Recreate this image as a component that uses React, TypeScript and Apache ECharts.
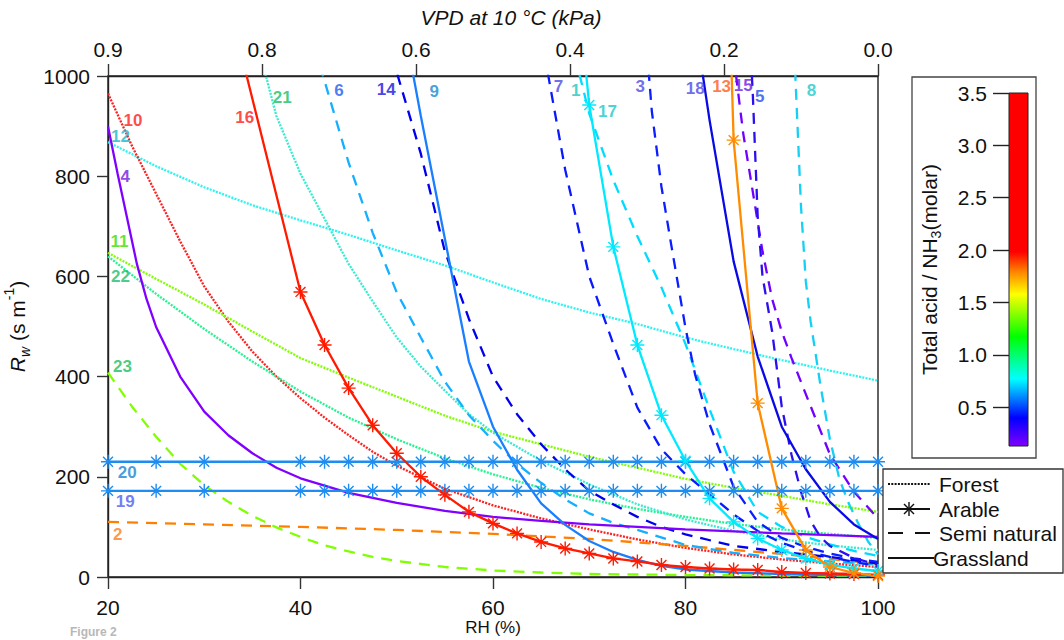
import React, { useEffect, useRef } from "react";
import * as echarts from "echarts";

const FONT = "'Liberation Sans', Arial, Helvetica, sans-serif";

// ---- axes / ticks ----
const RH_MIN = 20, RH_MAX = 100, RH_STEP = 20;
const RW_MIN = 0, RW_MAX = 1000, RW_STEP = 200;
const VPD_STEP_RH = 16;
const VPD_TICK_RH = [20, 36, 52, 68, 84, 100];
const VPD_TICK_LABELS = ["0.9", "0.8", "0.6", "0.4", "0.2", "0.0"];
const CBAR_MIN = 0.13, CBAR_MAX = 3.5;
const CBAR_TICKS = [0.5, 1.0, 1.5, 2.0, 2.5, 3.0, 3.5];
const LEGEND_ITEMS = ["Forest", "Arable", "Semi natural", "Grassland"];

// ---- data (RH %, Rw s m-1) ----
const RH_ARABLE = [20, 25, 30, 40, 42.5, 45, 47.5, 50, 52.5, 55, 57.5, 60, 62.5, 65, 67.5, 70, 72.5, 75, 77.5, 80, 82.5, 85, 87.5, 90, 92.5, 95, 97.5, 100];
const RW_19 = [172, 172, 172, 172, 172, 172, 172, 172, 172, 172, 172, 172, 172, 172, 172, 172, 172, 172, 172, 172, 172, 172, 172, 172, 172, 172, 172, 172];
const RW_20 = [230, 230, 230, 230, 230, 230, 230, 230, 230, 230, 230, 230, 230, 230, 230, 230, 230, 230, 230, 230, 230, 230, 230, 230, 230, 230, 230, 230];

const C1 = [[68.5, 1040], [70, 925], [72.5, 792], [75, 680], [77.5, 578], [80, 465], [82.5, 335], [85, 210], [87.5, 130], [90, 100], [92.5, 80], [95, 65], [97.5, 52], [100, 42]];
const C2 = [[20, 110], [30, 105], [40, 100], [50, 94], [60, 86], [70, 76], [80, 62], [90, 46], [95, 36], [100, 26]];
const C3 = [[76, 1050], [76.5, 930], [77.5, 779], [78.5, 665], [80, 497], [81, 404], [82.5, 305], [85, 180], [87.5, 110], [90, 78], [92.5, 60], [95, 47], [97.5, 37], [100, 30]];
const C4 = [[20, 899], [21, 805], [22, 715], [23, 625], [24, 555], [25, 499], [27.5, 400], [30, 330], [32.5, 283], [35, 247], [37.5, 218], [40, 197], [45, 168], [50, 148], [55, 132], [60, 120], [65, 112], [70, 105], [75, 100], [80, 95], [90, 87], [100, 80]];
const C5 = [[86.8, 1040], [87, 960], [87.5, 720], [88, 600], [89, 490], [90, 340], [91, 245], [92, 170], [93, 112], [94, 80], [95, 62], [97.5, 38], [100, 24]];
const C6 = [[42, 1020], [42.5, 990], [45, 827], [47.5, 687], [50, 568], [52.5, 478], [55, 390], [57.5, 323], [60, 272], [62.5, 226], [65, 188], [67.5, 155], [70, 127], [72.5, 108], [75, 94], [80, 64], [85, 48], [90, 38], [95, 31], [100, 25]];
const C7 = [[65, 1080], [67.5, 813], [70, 600], [72.5, 465], [75, 338], [77.5, 255], [80, 205], [82.5, 165], [85, 125], [87.5, 92], [90, 68], [92.5, 52], [95, 40], [97.5, 30], [100, 22]];
const C8 = [[91.3, 1050], [92, 740], [92.5, 590], [93, 510], [94, 385], [95, 275], [96, 195], [97, 145], [98, 105], [99, 70], [100, 45]];
const C9 = [[50, 1180], [52.5, 920], [55, 675], [57.5, 430], [60, 300], [62.5, 214], [65, 147], [67.5, 104], [70, 72], [72.5, 50], [75, 34], [77.5, 22], [80, 15], [85, 9], [90, 6], [95, 4], [100, 3]];
const C10 = [[20, 965], [22.5, 860], [25, 765], [27.5, 670], [30, 580], [32.5, 510], [35, 450], [37.5, 400], [40, 357], [42.5, 318], [45, 283], [47.5, 250], [50, 222], [55, 176], [60, 143], [65, 117], [70, 95], [75, 75], [80, 58], [85, 45], [90, 35], [95, 27], [100, 20]];
const C11 = [[20, 647], [25, 595], [30, 544], [35, 490], [40, 437], [45, 398], [50, 360], [55, 322], [60, 290], [65, 265], [70, 240], [75, 218], [80, 196], [85, 178], [90, 162], [95, 145], [100, 130]];
const C12 = [[20, 868], [25, 820], [30, 778], [35, 742], [40, 712], [45, 683], [50, 652], [55, 622], [60, 588], [65, 555], [70, 528], [75, 505], [80, 478], [85, 455], [90, 433], [95, 412], [100, 392]];
const C13 = [[82.5, 2470], [85, 872], [87.5, 347], [90, 137], [92.5, 54], [95, 20], [97.5, 8], [100, 2]];
const C14 = [[49.5, 1040], [52.5, 845], [55, 650], [57.5, 515], [60, 400], [62.5, 325], [65, 265], [67.5, 215], [70, 172], [72.5, 145], [75, 120], [77.5, 100], [80, 85], [85, 62], [90, 50], [95, 40], [100, 27]];
const C15 = [[85, 1040], [86, 885], [87, 768], [88, 650], [89, 555], [90, 490], [91, 438], [92.5, 365], [95, 245], [97.5, 170], [100, 117]];
const C16 = [[30, 1340], [40, 569], [42.5, 463], [45, 377], [47.5, 303], [50, 247], [52.5, 200], [55, 164], [57.5, 130], [60, 107], [62.5, 87], [65, 70], [67.5, 57], [70, 47], [72.5, 37], [75, 31], [77.5, 24], [80, 20], [82.5, 17], [85, 15], [87.5, 14], [90, 10], [92.5, 8], [95, 7], [97.5, 6], [100, 4]];
const C17 = [[67.5, 1425], [70, 942], [72.5, 659], [75, 463], [77.5, 323], [80, 232], [82.5, 157], [85, 110], [87.5, 77], [90, 54], [92.5, 37], [95, 24], [97.5, 17], [100, 12]];
const C18 = [[81.5, 1040], [82.5, 912], [85, 630], [87.5, 440], [90, 300], [92.5, 215], [95, 150], [97.5, 105], [100, 76]];
const C21 = [[36, 1030], [37.5, 920], [40, 805], [42.5, 715], [45, 625], [47.5, 550], [50, 478], [52.5, 420], [55, 372], [57.5, 325], [60, 288], [65, 232], [70, 185], [75, 145], [80, 115], [85, 92], [90, 75], [95, 63], [100, 54]];
const C22 = [[20, 640], [25, 565], [30, 495], [35, 430], [40, 370], [45, 318], [50, 275], [55, 237], [60, 205], [65, 178], [70, 155], [75, 136], [80, 120], [85, 106], [90, 95], [95, 86], [100, 78]];
const C23 = [[20, 408], [22.5, 340], [25, 280], [27.5, 226], [30, 183], [32.5, 150], [35, 122], [37.5, 99], [40, 80], [42.5, 63], [45, 51], [47.5, 40], [50, 32], [55, 20], [60, 13], [65, 9], [70, 6], [80, 4], [90, 3], [100, 2]];
const C19 = RH_ARABLE.map((x, i) => [x, RW_19[i]]);
const C20 = RH_ARABLE.map((x, i) => [x, RW_20[i]]);

// curve id, land type, data
const CURVES: [string, string, number[][]][] = [
  ["12", "forest", C12], ["10", "forest", C10], ["11", "forest", C11], ["22", "forest", C22], ["21", "forest", C21],
  ["2", "semi", C2], ["23", "semi", C23], ["6", "semi", C6], ["14", "semi", C14], ["7", "semi", C7], ["1", "semi", C1],
  ["3", "semi", C3], ["15", "semi", C15], ["5", "semi", C5], ["8", "semi", C8],
  ["4", "grass", C4], ["9", "grass", C9], ["18", "grass", C18],
  ["19", "arable", C19], ["20", "arable", C20], ["16", "arable", C16], ["17", "arable", C17], ["13", "arable", C13],
];

// curve label anchors (RH, Rw)
const LABEL_POS: [string, number, number][] = [
  ["10", 22.6, 912], ["12", 21.3, 879], ["4", 21.8, 800], ["11", 21.2, 669], ["22", 21.3, 599], ["23", 21.5, 420],
  ["20", 22.0, 208], ["19", 21.8, 150], ["2", 21.0, 84], ["16", 34.2, 918], ["21", 38.1, 957], ["6", 44.0, 972],
  ["14", 48.9, 974], ["9", 53.9, 969], ["7", 66.8, 979], ["1", 68.6, 972], ["17", 71.9, 929], ["3", 75.3, 979],
  ["18", 81.0, 975], ["13", 83.75, 979], ["15", 86.0, 982], ["5", 87.7, 959], ["8", 93.1, 972],
];

// ---- styles ----
const LINE_COLOR: Record<string, string> = {
  "1": "#00dcff", "2": "#ff8000", "3": "#0a1eff", "4": "#8000ff", "5": "#2a10f0", "6": "#14b0ff", "7": "#0a1aff",
  "8": "#14d0f5", "9": "#1a7fff", "10": "#ff2020", "11": "#80ff00", "12": "#2af5f0", "13": "#ff8c00", "14": "#0000ee",
  "15": "#7000ff", "16": "#ff1a00", "17": "#00eaff", "18": "#0a0ae6", "19": "#1e8cf0", "20": "#1e8cf0", "21": "#34ecd0",
  "22": "#20f590", "23": "#80ff00",
};
const LABEL_COLOR: Record<string, string> = {
  "1": "#18c8c0", "2": "#ff7a20", "3": "#4848e8", "4": "#7418e0", "5": "#1a4cf5", "6": "#1a5cf0", "7": "#4848e8",
  "8": "#18c8c8", "9": "#1888d0", "10": "#ff1a1a", "11": "#38e000", "12": "#18b8c8", "13": "#ff5a18", "14": "#1414e0",
  "15": "#6c18e0", "16": "#ff1a1a", "17": "#18c8c8", "18": "#4848e8", "19": "#4c5cf0", "20": "#1884d0", "21": "#18c060",
  "22": "#18c070", "23": "#18c060",
};
const STAR = "path://M6 0L6 12M0 6L12 6M1.76 1.76L10.24 10.24M1.76 10.24L10.24 1.76";

function lineStyleFor(kind: string, color: string) {
  if (kind === "forest") return { color, width: 2.3, type: [2, 1.3] as any };
  if (kind === "semi") return { color, width: 2.3, type: [11, 8] as any };
  return { color, width: 2.3, type: "solid" as any };
}

export default function App() {
  const ref = useRef<HTMLDivElement>(null);
  useEffect(() => {
    const chart = echarts.init(ref.current!, null, { renderer: "svg" });

    const series: any[] = CURVES.map(([id, kind, data]) => {
      const color = LINE_COLOR[id];
      const arable = kind === "arable";
      return {
        type: "line",
        name: id,
        xAxisIndex: 0,
        yAxisIndex: 0,
        data,
        clip: true,
        smooth: false,
        showSymbol: arable,
        symbol: arable ? STAR : "none",
        symbolSize: 14,
        itemStyle: { color, borderColor: color, borderWidth: 1.4 },
        lineStyle: lineStyleFor(kind, color),
        z: 3,
      };
    });

    series.push({
      type: "scatter",
      xAxisIndex: 0,
      yAxisIndex: 0,
      symbolSize: 1,
      itemStyle: { color: "rgba(0,0,0,0)" },
      z: 10,
      clip: false,
      data: LABEL_POS.map(([id, x, y]) => ({
        name: id,
        value: [x, y],
        label: { color: LABEL_COLOR[id] },
      })),
      label: {
        show: true,
        position: "inside",
        formatter: "{b}",
        fontSize: 17,
        fontWeight: "bold",
        fontFamily: FONT,
      },
    });

    const axisLine = { show: true, lineStyle: { color: "#222", width: 1.4 } };
    const tickStyle = { color: "#333", width: 1.4 };

    // legend drawn as graphics
    const lx0 = 888, lx1 = 930, ly = [484, 509, 533, 558];
    const legendGraphics: any[] = [
      { type: "rect", shape: { x: 883, y: 469, width: 180, height: 104 }, style: { fill: "#fff", stroke: "#333", lineWidth: 1.3 }, z: 50 },
      { type: "line", shape: { x1: lx0, y1: ly[0], x2: lx1, y2: ly[0] }, style: { stroke: "#111", lineWidth: 2.2, lineDash: [2, 1.3] }, z: 51 },
      { type: "line", shape: { x1: lx0, y1: ly[1], x2: lx1, y2: ly[1] }, style: { stroke: "#111", lineWidth: 2.2 }, z: 51 },
      { type: "line", shape: { x1: 909, y1: ly[1] - 7, x2: 909, y2: ly[1] + 7 }, style: { stroke: "#111", lineWidth: 1.4 }, z: 51 },
      { type: "line", shape: { x1: 904, y1: ly[1] - 5, x2: 914, y2: ly[1] + 5 }, style: { stroke: "#111", lineWidth: 1.4 }, z: 51 },
      { type: "line", shape: { x1: 904, y1: ly[1] + 5, x2: 914, y2: ly[1] - 5 }, style: { stroke: "#111", lineWidth: 1.4 }, z: 51 },
      { type: "line", shape: { x1: lx0, y1: ly[2], x2: lx1, y2: ly[2] }, style: { stroke: "#111", lineWidth: 2.2, lineDash: [15, 12] }, z: 51 },
      { type: "line", shape: { x1: lx0, y1: ly[3], x2: 934, y2: ly[3] }, style: { stroke: "#111", lineWidth: 2.2 }, z: 51 },
      ...LEGEND_ITEMS.map((t, i) => ({
        type: "text",
        x: i === 3 ? 933 : 939,
        y: ly[i],
        z: 52,
        style: { text: t, fill: "#111", fontSize: 21, fontFamily: FONT, align: "left", verticalAlign: "middle" },
      })),
      // colour bar frame
      { type: "rect", shape: { x: 912, y: 77, width: 124, height: 381 }, style: { fill: "none", stroke: "#444", lineWidth: 1.3 }, z: 1 },
      { type: "text", x: 70, y: 626, style: { text: "Figure 2", fill: "#b8b8b8", fontSize: 12, fontWeight: "bold", fontFamily: FONT, align: "left", verticalAlign: "top" } },
    ];

    const option: any = {
      animation: false,
      backgroundColor: "#fff",
      textStyle: { fontFamily: FONT },
      grid: [
        { left: 108, top: 76, width: 770, height: 501, show: true, borderColor: "#222", borderWidth: 1.4, backgroundColor: "transparent", containLabel: false, outerBoundsMode: "none" },
        {
          left: 1009, top: 93, width: 19, height: 353, show: true, borderColor: "#222", borderWidth: 1, containLabel: false, outerBoundsMode: "none",
          backgroundColor: {
            type: "linear", x: 0, y: 0, x2: 0, y2: 1,
            colorStops: [
              { offset: 0, color: "#ff0000" },
              { offset: 0.45, color: "#ff0000" },
              { offset: 0.51, color: "#ff8c00" },
              { offset: 0.57, color: "#ffff00" },
              { offset: 0.69, color: "#00ff00" },
              { offset: 0.81, color: "#00ffff" },
              { offset: 0.92, color: "#0000ff" },
              { offset: 1, color: "#8000ff" },
            ],
          },
        },
      ],
      xAxis: [
        {
          gridIndex: 0, type: "value", position: "bottom", min: RH_MIN, max: RH_MAX, interval: RH_STEP,
          axisLine, axisTick: { show: true, length: 12, lineStyle: tickStyle }, splitLine: { show: false },
          axisLabel: { fontSize: 21, color: "#111", margin: 20, formatter: (v: number) => String(v) },
          name: "RH (%)", nameLocation: "middle", nameGap: 41, nameMoveOverlap: false,
          nameTextStyle: { fontSize: 17, color: "#111", verticalAlign: "top", lineHeight: 18 },
        },
        {
          gridIndex: 0, type: "value", position: "top", min: RH_MIN, max: RH_MAX, interval: VPD_STEP_RH,
          axisLine, axisTick: { show: true, length: 12, lineStyle: tickStyle }, splitLine: { show: false },
          axisLabel: {
            fontSize: 21, color: "#111", margin: 16,
            formatter: (v: number) => {
              const i = VPD_TICK_RH.findIndex((t) => Math.abs(t - v) < 1e-6);
              return i >= 0 ? VPD_TICK_LABELS[i] : "";
            },
          },
          name: "VPD at 10 °C (kPa)", nameLocation: "middle", nameGap: 48,
          nameTextStyle: { fontSize: 21, color: "#111", fontStyle: "italic", padding: [0, 0, 0, 36] },
        },
        { gridIndex: 1, type: "value", show: false, min: 0, max: 1 },
      ],
      yAxis: [
        {
          gridIndex: 0, type: "value", min: RW_MIN, max: RW_MAX, interval: RW_STEP,
          axisLine, axisTick: { show: true, length: 11, lineStyle: tickStyle }, splitLine: { show: false },
          axisLabel: { fontSize: 21, color: "#111", margin: 18, formatter: (v: number) => String(v) },
          name: "{r|R}{w|w} (s m{s|-1})", nameLocation: "middle", nameGap: 52, nameRotate: 90,
          nameTextStyle: {
            fontSize: 21, color: "#111", lineHeight: 30,
            rich: {
              r: { fontSize: 21, fontStyle: "italic", lineHeight: 30, color: "#111" },
              w: { fontSize: 14, fontStyle: "italic", lineHeight: 14, verticalAlign: "bottom", color: "#111" },
              s: { fontSize: 14, lineHeight: 14, verticalAlign: "top", color: "#111" },
            },
          },
        },
        {
          gridIndex: 1, type: "value", position: "left", min: CBAR_MIN, max: CBAR_MAX,
          axisLine: { show: false },
          axisTick: { show: true, length: 16, customValues: CBAR_TICKS, lineStyle: { color: "#222", width: 1.4 } },
          axisLabel: { show: true, customValues: CBAR_TICKS, fontSize: 21, color: "#111", margin: 22, formatter: (v: number) => v.toFixed(1) },
          splitLine: { show: false },
          name: "Total acid / NH{sub|3}(molar)", nameLocation: "middle", nameGap: 66, nameRotate: 90,
          nameTextStyle: {
            fontSize: 21, color: "#111", lineHeight: 28,
            rich: { sub: { fontSize: 14, lineHeight: 14, verticalAlign: "bottom", color: "#111" } },
          },
        },
      ],
      graphic: legendGraphics,
      series,
    };

    chart.setOption(option);
    return () => chart.dispose();
  }, []);

  return <div ref={ref} style={{ position: "fixed", left: 0, top: 0, width: 1064, height: 640, background: "#fff" }} />;
}
